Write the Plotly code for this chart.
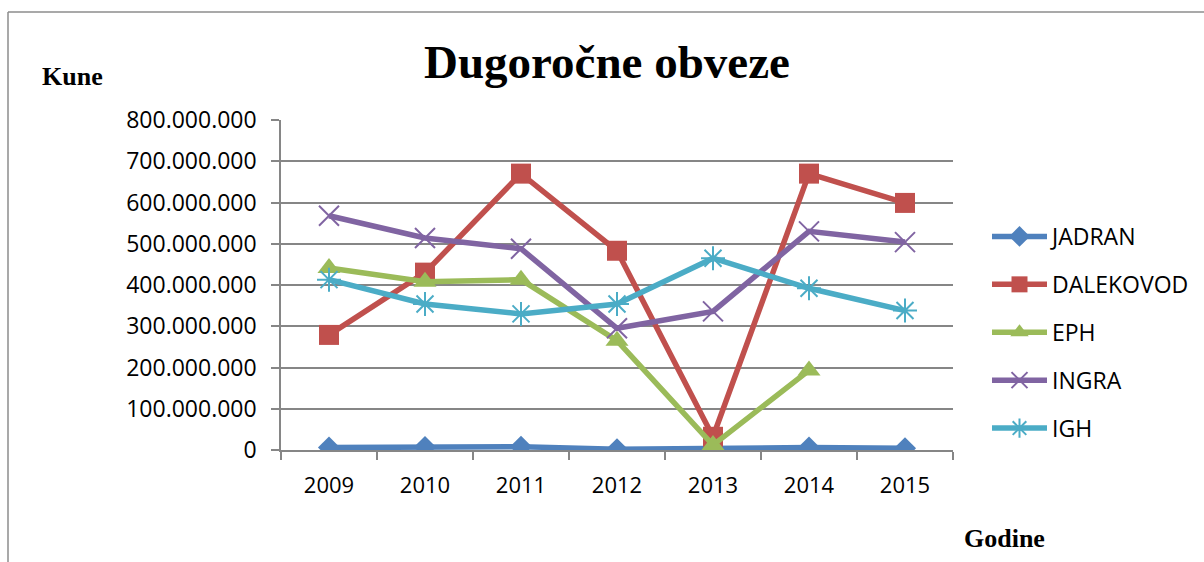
import plotly.graph_objects as go

years = ["2009", "2010", "2011", "2012", "2013", "2014", "2015"]
jadran = [6e6, 7e6, 8e6, 2e6, 5e6, 6e6, 4e6]
dalekovod = [279e6, 430e6, 670e6, 483e6, 32e6, 670e6, 599e6]
eph = [441e6, 408e6, 413e6, 265e6, 12e6, 193e6, None]
ingra = [568e6, 514e6, 488e6, 295e6, 336e6, 530e6, 504e6]
igh = [413e6, 354e6, 330e6, 354e6, 465e6, 392e6, 338e6]

ytickvals = [0, 1e8, 2e8, 3e8, 4e8, 5e8, 6e8, 7e8, 8e8]
yticktext = ["0", "100.000.000", "200.000.000", "300.000.000", "400.000.000",
             "500.000.000", "600.000.000", "700.000.000", "800.000.000"]

W, H = 1204, 562
L, R, T, B = 281, 251, 120, 112
pw, ph = W - L - R, H - T - B


def px(x):
    return (x - L) / pw


def py(y):
    return (H - B - y) / ph


series = [
    ("JADRAN", jadran, "#4F81BD", dict(symbol="diamond", size=17)),
    ("DALEKOVOD", dalekovod, "#C0504D", dict(symbol="square", size=20)),
    ("EPH", eph, "#9BBB59", dict(symbol="triangle-up", size=20)),
    ("INGRA", ingra, "#8064A2", dict(symbol="x-thin-open", size=20, line=dict(width=2, color="#8064A2"))),
    ("IGH", igh, "#4BACC6", dict(symbol="asterisk-open", size=20, line=dict(width=2, color="#4BACC6"))),
]

fig = go.Figure()
for name, vals, col, mk in series:
    fig.add_trace(go.Scatter(
        x=years, y=vals, name=name, mode="lines+markers",
        line=dict(color=col, width=5.5), marker=dict(color=col, **mk),
        legendgroup=name, connectgaps=False,
    ))

grid = "#868686"
fig.update_layout(
    width=W, height=H,
    margin=dict(l=L, r=R, t=T, b=B, pad=0, autoexpand=False),
    paper_bgcolor="white", plot_bgcolor="white",
    font=dict(family="Open Sans", size=22, color="black"),
    showlegend=True,
    legend=dict(xref="container", yref="container", x=987 / W, y=1 - 215 / H,
                xanchor="left", yanchor="top",
                font=dict(family="Open Sans", size=23, color="black"),
                itemwidth=55, tracegroupgap=15, bgcolor="rgba(0,0,0,0)"),
    xaxis=dict(type="category", range=[-0.5, 6.5], showgrid=False,
               showline=True, linecolor=grid, linewidth=1.5,
               ticks="outside", ticklen=8, tickcolor=grid, tickwidth=1.5,
               tickson="boundaries", ticklabelstandoff=15,
               tickfont=dict(family="Open Sans", size=22)),
    yaxis=dict(range=[0, 8e8], tickvals=ytickvals, ticktext=yticktext,
               showgrid=True, gridcolor=grid, gridwidth=1.5,
               showline=True, linecolor=grid, linewidth=1.5,
               ticks="outside", ticklen=8, tickcolor=grid, tickwidth=1.5,
               ticklabelstandoff=10, zeroline=False,
               tickfont=dict(family="Open Sans", size=23)),
    annotations=[
        dict(text="<b>Dugoročne obveze</b>", x=px(607), y=py(62), xref="paper", yref="paper",
             xanchor="center", yanchor="middle",
             showarrow=False, font=dict(family="Liberation Serif", size=47, color="black")),
        dict(text="<b>Kune</b>", x=px(72), y=py(76), xref="paper", yref="paper",
             xanchor="center", yanchor="middle",
             showarrow=False, font=dict(family="Liberation Serif", size=26, color="black")),
        dict(text="<b>Godine</b>", x=px(1004), y=py(538), xref="paper", yref="paper",
             xanchor="center", yanchor="middle",
             showarrow=False, font=dict(family="Liberation Serif", size=26, color="black")),
    ],
    shapes=[
        dict(type="line", xref="paper", yref="paper", x0=px(8), x1=px(1210), y0=py(12), y1=py(12),
             line=dict(color="#8c8c8c", width=1.5)),
        dict(type="line", xref="paper", yref="paper", x0=px(8), x1=px(8), y0=py(12), y1=py(570),
             line=dict(color="#8c8c8c", width=1.5)),
    ],
)

fig.write_html("out.html", config={"displayModeBar": False},
               post_script="document.body.style.margin='0';document.body.style.overflow='hidden';")
